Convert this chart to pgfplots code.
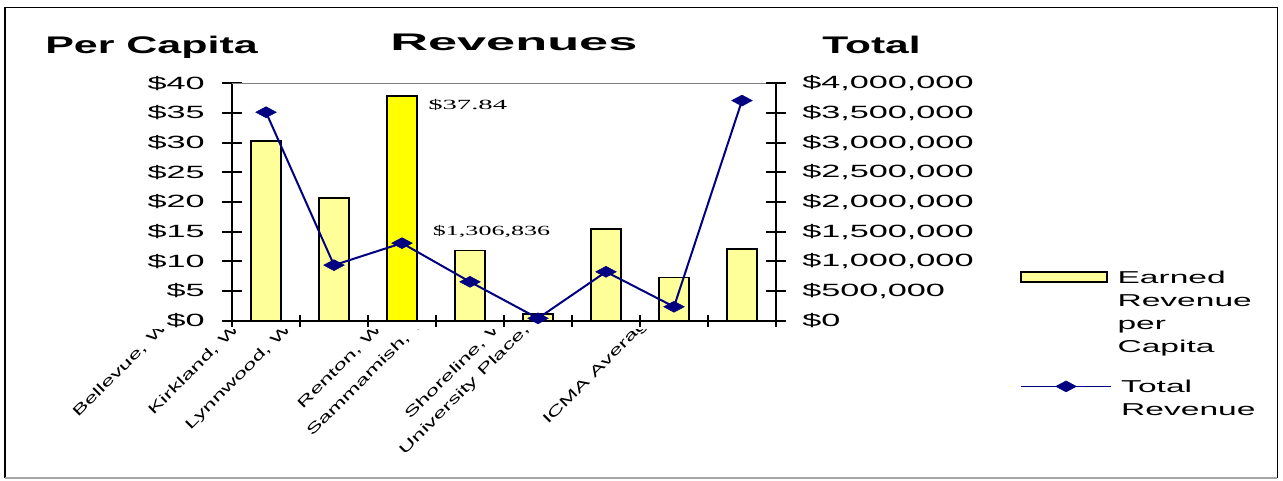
\documentclass[border=0pt]{standalone}
\usepackage{pgfplots}
\pgfplotsset{compat=1.18}
\usepackage{graphicx}
\usepackage{fontspec}
\setmainfont{Liberation Sans}
\newfontfamily\serif{Liberation Serif}
\definecolor{lightyel}{HTML}{FFFF99}
\definecolor{brightyel}{HTML}{FFFF00}
\definecolor{navy}{HTML}{000080}
\newcommand\sx[2]{\scalebox{#1}[1]{#2}}
\newcommand\tkl[1]{\sx{1.93}{#1}}
\newcommand\lgd[1]{\sx{1.95}{#1}}
\newcommand\catl[2]{\hspace*{-#1pt}\sx{1.70}{#2}}
\pgfplotsset{
  barlegend/.style={legend image code/.code={\draw[##1, line width=1.5pt] (0pt,1pt) rectangle (64.5pt,8.5pt);}},
  linelegend/.style={legend image code/.code={\draw[##1, line width=0.75pt, mark repeat=2, mark phase=2] plot coordinates {(0pt,4.5pt) (34pt,4.5pt) (68pt,4.5pt)};}},
  plotbox/.style={at={(174pt,119.475pt)}, anchor=south west, scale only axis, width=408pt, height=178.05pt, xmin=-0.5, xmax=7.5},
  mylegend/.style={legend style={at={(1.4485,#1)}, anchor=north west, draw=none, fill=none, inner sep=0pt,
    column sep=7pt,
    cells={anchor=base west},
    nodes={inner sep=0pt, font=\fontsize{12.9}{17.3}\selectfont}}},
}
\begin{document}
\begin{tikzpicture}
\path[use as bounding box] (0,0) rectangle (962.25pt,360pt);
% frame
\draw[black, line width=1.3pt] (3.75pt,1.5pt) -- (3.75pt,354.4pt) -- (958.1pt,354.4pt) -- (958.1pt,1.5pt);
\draw[gray!70, line width=1pt] (3.75pt,1.5pt) -- (958.1pt,1.5pt);
% titles
\node[anchor=base west, inner sep=0pt, font=\bfseries\fontsize{18}{22}\selectfont] at (33.75pt,319.9pt) {\sx{1.79}{Per Capita}};
\node[anchor=base west, inner sep=0pt, font=\bfseries\fontsize{18}{22}\selectfont] at (292.5pt,322.5pt) {\sx{2.18}{Revenues}};
\node[anchor=base west, inner sep=0pt, font=\bfseries\fontsize{18}{22}\selectfont] at (616.5pt,319.9pt) {\sx{1.77}{Total}};

% bars, left axis
\begin{axis}[plotbox,
  ymin=0, ymax=40,
  axis lines*=left,
  axis line style={line width=1.3pt, black},
  xtick=\empty,
  ytick={0,5,10,15,20,25,30,35,40},
  yticklabels={\tkl{\$0},\tkl{\$5},\tkl{\$10},\tkl{\$15},\tkl{\$20},\tkl{\$25},\tkl{\$30},\tkl{\$35},\tkl{\$40}},
  tick align=center, major tick length=15pt,
  tick style={line width=1.3pt, black},
  yticklabel style={font=\fontsize{13.3}{16}\selectfont, anchor=east, inner sep=0pt, xshift=-12.75pt},
  clip=false,
  mylegend=0.2254,
]
\draw[gray, line width=0.6pt] (rel axis cs:0,1) -- (rel axis cs:1,1);
\addplot[ybar, bar width=22.5pt, bar shift=0pt, fill=lightyel, draw=black, line width=1.2pt, barlegend]
  coordinates {(0,30.3) (1,20.7) (3,11.8) (4,1.1) (5,15.5) (6,7.3) (7,12.1)};
\addlegendentry{\begin{tabular}[t]{@{}l@{}}\lgd{Earned}\\\lgd{Revenue}\\\lgd{per}\\\lgd{Capita}\end{tabular}}
\addplot[forget plot, ybar, bar width=22.5pt, bar shift=0pt, fill=brightyel, draw=black, line width=1.2pt]
  coordinates {(2,37.84)};
\node[anchor=base west, inner sep=0pt, font=\serif\fontsize{10.5}{12}\selectfont, xshift=19.5pt, yshift=-9.9pt] at (axis cs:2,37.84) {\sx{2.05}{\$37.84}};
\end{axis}

% x ticks
\begin{axis}[plotbox,
  ymin=0, ymax=1,
  axis x line*=bottom, axis y line=none,
  axis line style={line width=1.3pt, black},
  xtick={-0.5,0.5,1.5,2.5,3.5,4.5,5.5,6.5,7.5}, xticklabels=\empty,
  tick align=center, major tick length=8.75pt,
  tick style={line width=1.3pt, black},
]
\end{axis}

% line, right axis
\begin{axis}[plotbox,
  ymin=0, ymax=4000000,
  axis x line=none, axis y line*=right,
  axis line style={line width=1.3pt, black},
  xtick=\empty,
  scaled y ticks=false,
  ytick={0,500000,1000000,1500000,2000000,2500000,3000000,3500000,4000000},
  yticklabels={\tkl{\$0},\tkl{\$500,000},\tkl{\$1,000,000},\tkl{\$1,500,000},\tkl{\$2,000,000},\tkl{\$2,500,000},\tkl{\$3,000,000},\tkl{\$3,500,000},\tkl{\$4,000,000}},
  tick align=center, major tick length=15pt,
  tick style={line width=1.3pt, black},
  yticklabel style={font=\fontsize{13.3}{16}\selectfont, anchor=west, inner sep=0pt, xshift=12pt},
  clip=false,
  mylegend=-0.2329,
]
\addplot[linelegend, color=navy, line width=1.5pt, mark=diamond*, mark size=4.1pt,
  mark options={xscale=2.5, solid, fill=navy, line width=0.4pt}]
  coordinates {(0,3513000) (1,936000) (2,1306836) (3,655000) (4,40000) (5,824000) (6,235000) (7,3709000)};
\addlegendentry{\begin{tabular}[t]{@{}l@{}}\lgd{Total}\\\lgd{Revenue}\end{tabular}}
\node[anchor=base west, inner sep=0pt, font=\serif\fontsize{10.5}{12}\selectfont, xshift=23pt, yshift=6.1pt] at (axis cs:2,1306836) {\sx{1.86}{\$1,306,836}};
\end{axis}

% category labels (truncated and clipped as in the original)
\begin{scope}
\clip (0pt,0pt) rectangle (962.25pt,113.25pt);
\begin{axis}[
  at={(0pt,112.5pt)}, anchor=south west, scale only axis,
  width=962.25pt, height=20pt,
  xmin=0, xmax=1283, ymin=0, ymax=1,
  axis line style={draw=none},
  ytick=\empty,
  xtick={166,239,291,382,419,500,530,643},
  xtick style={draw=none},
  major tick length=0pt,
  xticklabels={{\catl{93.4}{Bellevue, W}},{\catl{91.2}{Kirkland, W}},{\catl{107.1}{Lynnwood, W}},{\catl{84.9}{Renton, W}},{\catl{113.5}{Sammamish, W}},{\catl{95.5}{Shoreline, W}},{\catl{134.7}{University Place,}},{\catl{100.8}{ICMA Averag}}},
  xticklabel style={rotate=45, anchor=base west, inner sep=0pt, font=\fontsize{10.5}{12}\selectfont},
]
\end{axis}
\end{scope}
\end{tikzpicture}
\end{document}
